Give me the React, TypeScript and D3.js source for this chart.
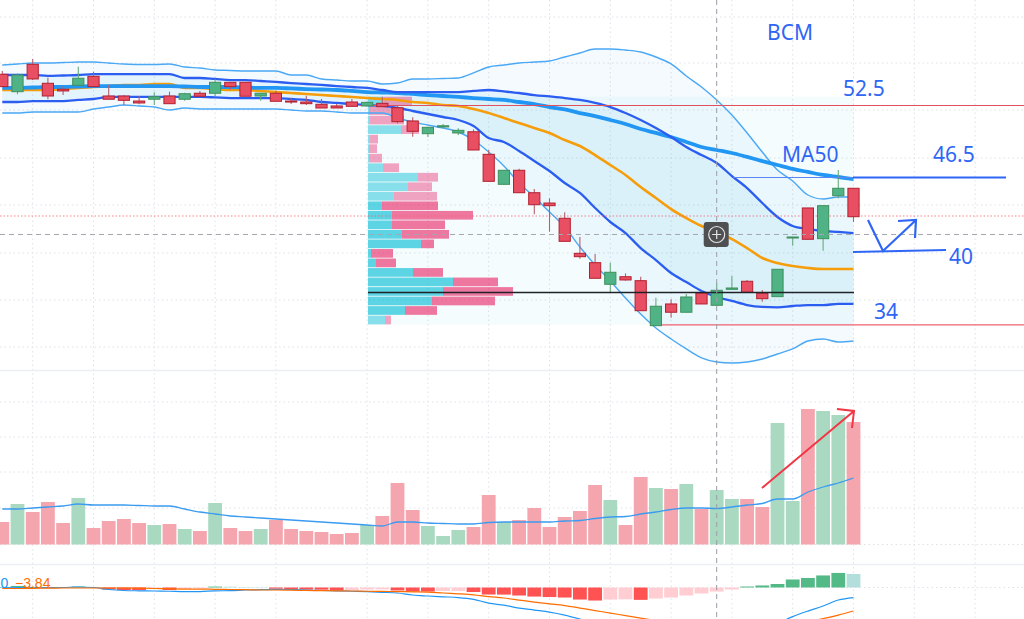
import React from "react";
import * as d3 from "d3";

const W = 1024;
const H = 619;

// Candles (price)
const opens = [55.06,53.61,55.89,54.31,53.81,54.14,54.89,53.25,53.25,52.83,52.98,53.25,52.98,53.48,53.48,54.39,54.39,53.25,53.48,52.83,52.75,52.56,52.42,52.75,52.42,52.64,52.27,51.17,50.11,50.67,50.17,50.27,48.39,45.89,47.06,45.19,44.33,43.06,40.14,39.36,37.56,38.19,37.86,34.11,35.92,35.23,36.83,35.81,37.14,37.81,36.81,36.53,41.44,43.92,41.36,44.94,45.56];
const highs = [55.33,55.14,56.33,54.78,54.08,55.69,55.28,54.17,53.33,53.25,53.56,53.61,53.53,53.67,54.64,54.39,54.39,53.48,53.69,53.08,53.27,53.00,52.58,53.00,52.80,53.19,52.50,51.47,50.64,50.92,50.56,50.47,48.75,47.06,47.18,45.50,44.73,43.56,41.50,40.08,39.36,38.47,38.19,36.44,36.31,36.75,37.03,37.64,38.25,37.92,37.08,38.81,41.50,43.92,44.11,47.08,45.56];
const lows = [54.00,53.39,54.58,52.98,53.33,54.14,54.03,52.98,52.48,52.56,52.50,52.61,52.86,53.23,53.25,53.75,53.23,52.86,52.81,52.58,52.50,52.25,52.25,52.39,52.42,52.36,50.97,49.86,49.83,50.56,50.00,48.75,46.14,45.89,45.19,43.39,41.94,41.14,39.69,38.06,36.92,37.86,35.36,34.11,34.78,35.23,35.92,35.81,37.14,36.89,36.11,36.53,40.78,41.31,40.36,44.73,42.75];
const closes = [54.03,55.00,54.67,53.25,53.67,54.73,54.03,52.98,52.89,52.67,53.19,52.61,53.44,53.23,54.39,54.03,53.23,53.48,52.81,52.79,52.61,52.25,52.25,52.39,52.72,52.36,51.11,50.31,50.64,50.77,50.39,48.75,46.14,47.06,45.19,44.19,44.11,41.14,39.86,38.06,38.56,37.92,35.36,35.73,35.23,36.50,35.92,37.06,37.25,36.89,36.36,38.81,41.50,41.31,44.11,45.56,43.19];

// Bollinger bands, MA20 and MA50
const bbOuterUpper = [55.83,55.92,56.00,56.00,56.04,56.08,56.08,56.00,55.92,55.88,55.88,55.92,55.67,55.58,55.42,55.38,55.33,55.33,55.33,55.00,55.00,54.67,54.58,54.50,54.50,54.25,54.33,54.67,54.67,54.71,54.75,55.17,55.67,55.83,56.00,56.08,56.17,56.50,56.83,57.17,57.17,57.08,56.92,56.50,55.92,54.92,54.00,52.92,51.67,50.17,48.58,47.08,46.17,45.00,44.67,44.83,44.83];
const bbOuterLower = [51.83,51.83,51.92,51.92,51.92,51.92,52.17,52.33,52.50,52.42,52.33,52.08,52.25,52.17,52.17,52.17,52.17,52.17,52.17,52.08,52.00,52.00,51.92,51.83,51.83,51.83,51.42,51.08,50.83,50.58,50.25,49.58,48.58,47.42,46.00,44.83,43.58,42.33,40.67,39.17,37.83,36.42,35.08,33.92,33.00,32.17,31.42,31.08,31.00,31.08,31.33,31.75,32.17,32.83,33.00,32.75,32.83];
const bbInnerUpper = [55.00,55.00,55.00,54.92,54.96,55.00,55.08,55.08,55.08,55.08,55.08,55.08,54.75,54.75,54.67,54.58,54.58,54.50,54.42,54.33,54.25,54.17,54.08,54.00,53.92,53.75,53.58,53.58,53.58,53.58,53.58,53.67,53.75,53.63,53.50,53.33,53.21,53.08,52.92,52.67,52.33,51.83,51.25,50.58,49.83,49.00,48.33,47.67,46.58,45.58,44.33,43.17,42.42,42.17,42.00,41.92,41.83];
const bbInnerLower = [52.75,52.75,52.83,52.83,52.83,52.92,53.00,53.17,53.17,53.17,53.17,53.17,53.17,53.17,53.13,53.08,53.08,53.08,53.08,53.00,52.92,52.75,52.67,52.58,52.50,52.42,52.25,52.00,51.75,51.50,51.25,50.75,49.75,49.42,48.67,47.83,47.00,46.00,45.17,43.92,42.75,41.83,40.58,39.58,38.50,37.75,37.00,36.50,36.17,35.83,35.67,35.63,35.75,35.83,35.83,35.92,35.92];
const ma20 = [53.75,53.75,53.75,53.75,53.83,53.92,54.00,54.08,54.17,54.17,54.25,54.25,53.92,53.92,53.83,53.75,53.75,53.67,53.58,53.50,53.42,53.33,53.25,53.17,53.08,53.00,52.92,52.75,52.67,52.50,52.42,52.17,51.83,51.42,51.00,50.58,50.17,49.58,49.08,48.33,47.50,46.67,45.67,44.75,43.83,43.08,42.42,41.92,41.33,40.58,39.75,39.33,39.08,38.92,38.83,38.83,38.83];
const ma50 = [53.92,53.92,53.96,54.00,54.00,54.04,54.08,54.08,54.08,54.08,54.08,54.08,54.04,54.00,54.00,54.00,53.96,53.92,53.92,53.88,53.83,53.79,53.75,53.67,53.58,53.54,53.50,53.42,53.33,53.25,53.17,53.08,53.00,52.92,52.75,52.58,52.33,52.13,51.83,51.58,51.25,50.92,50.50,50.17,49.83,49.42,49.00,48.75,48.50,48.17,47.83,47.50,47.17,46.92,46.67,46.50,46.33];

// Volume and its moving average
const volumes = [225,405,325,425,215,465,165,235,255,215,195,205,155,135,415,165,135,155,245,155,135,125,105,115,195,285,615,345,185,85,145,175,495,225,245,365,175,275,335,595,445,195,675,565,555,605,355,545,455,455,375,1215,435,1355,1335,1295,1225];
const volumeMA = [355,355,365,375,385,405,395,395,395,390,385,385,355,325,305,285,275,265,255,245,235,225,215,205,195,185,225,225,215,210,205,205,220,225,225,225,225,235,240,260,275,280,305,325,350,365,365,360,375,395,410,455,455,525,575,615,665];

// MACD
const macdHist = [0.08,0.25,0.11,0.08,0.08,0.16,0.08,-0.33,-0.41,-0.43,-0.25,-0.41,-0.25,-0.16,0.15,0.13,0.07,0.05,-0.20,-0.33,-0.34,-0.36,-0.49,-0.41,-0.33,-0.30,-0.49,-0.66,-0.67,-0.57,-0.56,-0.74,-1.15,-1.16,-1.31,-1.48,-1.56,-1.64,-1.97,-2.13,-1.97,-1.93,-2.02,-1.80,-1.64,-1.31,-0.98,-0.66,-0.33,0.16,0.33,0.57,1.31,1.56,1.97,2.38,2.21];
const macdLine = [-0.08,0,-0.02,-0.03,0,0.08,0,-0.33,-0.49,-0.54,-0.57,-0.61,-0.66,-0.66,-0.54,-0.52,-0.41,-0.36,-0.30,-0.33,-0.41,-0.49,-0.54,-0.61,-0.69,-0.79,-0.90,-1.23,-1.39,-1.52,-1.64,-1.93,-2.54,-2.89,-3.36,-3.69,-4.02,-4.51,-5.16,-5.90,-6.15,-6.52,-7.02,-7.21,-7.46,-7.46,-7.38,-7.21,-6.97,-6.48,-6.23,-5.82,-4.75,-3.85,-3.03,-2.05,-1.64];
const macdSignal = [-0.16,-0.16,-0.13,-0.11,-0.08,-0.08,-0.08,-0.08,-0.08,-0.11,-0.16,-0.20,-0.25,-0.25,-0.30,-0.33,-0.36,-0.41,-0.41,-0.44,-0.48,-0.51,-0.54,-0.57,-0.61,-0.64,-0.67,-0.70,-0.74,-0.90,-1.03,-1.20,-1.48,-1.72,-2.05,-2.38,-2.67,-2.95,-3.36,-3.77,-4.18,-4.59,-5.00,-5.41,-5.82,-6.15,-6.39,-6.56,-6.64,-6.64,-6.56,-6.39,-6.07,-5.57,-5.08,-4.51,-3.84];

// Visible-range volume profile, top row to bottom row
const vpBuy = [16,1,2,33,2,1,1,15,50,40,26,14,24,24,34,53,3,8,45,85,75,64,37,17];
const vpSell = [28,26,34,18,8,8,13,16,20,24,43,56,81,53,47,13,22,20,30,45,70,63,32,6];
const vpInValueArea = [0,0,0,0,0,0,0,0,0,0,0,1,1,1,1,1,1,1,1,1,1,1,1,0];

// Grid values
const gridBars = [2,6,10,14,18,24,28,32,36,40,44,48,52,56,60,64];
const gridPrices = [59.83,56,52.08,48.08,44.17,40.17,36.25,32.33];
const gridVolumes = [1425,1075,725,365,0];

// Price levels
const levelResist = 52.46;
const levelMA50 = 46.46;
const levelSupport = 34.17;
const levelPoc = 36.87;
const lastPriceLine = 43.25;
const crosshairPrice = 41.71;
const crosshairBar = 47;

const n = opens.length;
const barX = d3.scaleLinear().domain([0, 56]).range([2.3, 853.5]);
const priceY = d3.scaleLinear().domain([61.25, 31]).range([0, 363]);
const volY = d3.scaleLinear().domain([0, 1355]).range([544.5, 409]);
const macdY = d3.scaleLinear().domain([0, -3.84]).range([587.5, 611]);
const vpX = d3.scaleLinear().domain([0, 100]).range([368, 468]);

const idx = d3.range(n);
const curve = d3.curveMonotoneX;
const priceLine = (vals: number[]) =>
  d3.line<number>().curve(curve).x((i) => barX(i)).y((i) => priceY(vals[i]))(idx) as string;
const bandPath = (up: number[], lo: number[]) =>
  d3.area<number>().curve(curve).x((i) => barX(i)).y0((i) => priceY(lo[i])).y1((i) => priceY(up[i]))(idx) as string;

const RED = "#e94f63";
const RED_EDGE = "#b3202f";
const GREEN = "#50b385";
const GREEN_EDGE = "#3f8f5c";
const BLUE_INK = "#2f66f5";
const FONT = "'Noto Sans', 'Open Sans', sans-serif";

const gridStyle = { stroke: "#dfe2e8", strokeWidth: 1, strokeDasharray: "1.5 3" };

export default function App() {
  const vpTop = 96.7;
  const vpStep = 9.52;
  return (
    <svg
      width={W}
      height={H}
      viewBox={`0 0 ${W} ${H}`}
      style={{ position: "absolute", left: 0, top: 0, display: "block", background: "#fff" }}
    >
      {/* grid */}
      {gridBars.map((b) => (
        <line key={b} x1={barX(b)} x2={barX(b)} y1={0} y2={H} {...gridStyle} />
      ))}
      {gridPrices.map((p) => (
        <line key={p} x1={0} x2={W} y1={priceY(p)} y2={priceY(p)} {...gridStyle} />
      ))}
      {gridVolumes.map((v) => (
        <line key={v} x1={0} x2={W} y1={volY(v)} y2={volY(v)} {...gridStyle} />
      ))}
      <line x1={0} x2={W} y1={macdY(0)} y2={macdY(0)} {...gridStyle} />
      <line x1={0} x2={W} y1={370.5} y2={370.5} stroke="#eceef1" strokeWidth={1.5} />
      <line x1={0} x2={W} y1={564.5} y2={564.5} stroke="#eceef1" strokeWidth={1.5} />

      {/* bands */}
      <path d={bandPath(bbOuterUpper, bbOuterLower)} fill="#2196f3" fillOpacity={0.05} />
      <path d={bandPath(bbInnerUpper, bbInnerLower)} fill="#26b6e6" fillOpacity={0.08} />
      <rect x={368} y={vpTop} width={486} height={228} fill="#00bcd4" fillOpacity={0.04} />

      {/* volume profile */}
      {vpBuy.map((b, r) => {
        const y = vpTop + r * vpStep;
        const strong = vpInValueArea[r] === 1;
        return (
          <g key={r}>
            <rect x={vpX(0)} y={y} width={vpX(b) - vpX(0)} height={8.7} fill="#00bcd4" fillOpacity={strong ? 0.62 : 0.45} />
            <rect x={vpX(b)} y={y} width={vpX(b + vpSell[r]) - vpX(b)} height={8.7} fill="#e91e63" fillOpacity={strong ? 0.6 : 0.4} />
          </g>
        );
      })}

      {/* indicator lines */}
      <path d={priceLine(bbOuterUpper)} fill="none" stroke="#4aa8f5" strokeWidth={1.4} />
      <path d={priceLine(bbOuterLower)} fill="none" stroke="#4aa8f5" strokeWidth={1.4} />
      <path d={priceLine(ma20)} fill="none" stroke="#f59d0b" strokeWidth={2.6} />
      <path d={priceLine(ma50)} fill="none" stroke="#2196f3" strokeWidth={3.8} />
      <path d={priceLine(bbInnerUpper)} fill="none" stroke="#2a5df0" strokeWidth={2.3} />
      <path d={priceLine(bbInnerLower)} fill="none" stroke="#2a5df0" strokeWidth={2.3} />

      {/* reference lines behind candles */}
      <line x1={0} x2={W} y1={priceY(lastPriceLine)} y2={priceY(lastPriceLine)} stroke="#f7606f" strokeOpacity={0.8} strokeWidth={1} strokeDasharray="1.5 2" />
      <line x1={360} x2={W} y1={priceY(levelResist)} y2={priceY(levelResist)} stroke="#e0505f" strokeWidth={1.1} />
      <line x1={660} x2={W} y1={priceY(levelSupport)} y2={priceY(levelSupport)} stroke="#ee6270" strokeWidth={1.2} />

      {/* candles */}
      {idx.map((i) => {
        const up = closes[i] >= opens[i];
        const top = priceY(Math.max(opens[i], closes[i]));
        const bot = priceY(Math.min(opens[i], closes[i]));
        const x = barX(i);
        return (
          <g key={i}>
            <line x1={x} x2={x} y1={priceY(highs[i])} y2={priceY(lows[i])} stroke={up ? "#6aab7e" : "#b9606c"} strokeWidth={1.1} />
            <rect
              x={x - 5.6}
              y={top}
              width={11.2}
              height={Math.max(bot - top, 1)}
              fill={up ? GREEN : RED}
              stroke={up ? GREEN_EDGE : RED_EDGE}
              strokeWidth={1}
            />
          </g>
        );
      })}

      {/* point of control */}
      <line x1={368} x2={854} y1={priceY(levelPoc)} y2={priceY(levelPoc)} stroke="#1f2226" strokeWidth={1.6} />

      {/* volume */}
      {idx.map((i) => (
        <rect
          key={i}
          x={barX(i) - 6.9}
          y={volY(volumes[i])}
          width={13.8}
          height={volY(0) - volY(volumes[i])}
          fill={closes[i] >= opens[i] ? "#a9dac1" : "#f5a5ad"}
        />
      ))}
      <path
        d={d3.line<number>().curve(curve).x((i) => barX(i)).y((i) => volY(volumeMA[i]))(idx) as string}
        fill="none"
        stroke="#3b9bf0"
        strokeWidth={1.3}
      />

      {/* MACD */}
      {idx.map((i) => {
        const v = macdHist[i];
        const prev = i > 0 ? macdHist[i - 1] : 0;
        const fill = v >= 0 ? (v >= prev ? "#53b987" : "#b2dfdb") : v <= prev ? "#ff5252" : "#ffcdd2";
        return (
          <rect
            key={i}
            x={barX(i) - 6.9}
            y={Math.min(macdY(v), macdY(0))}
            width={13.8}
            height={Math.abs(macdY(v) - macdY(0))}
            fill={fill}
          />
        );
      })}
      <path
        d={d3.line<number>().curve(curve).x((i) => barX(i)).y((i) => macdY(macdLine[i]))(idx) as string}
        fill="none"
        stroke="#2196f3"
        strokeWidth={1.2}
      />
      <path
        d={d3.line<number>().curve(curve).x((i) => barX(i)).y((i) => macdY(macdSignal[i]))(idx) as string}
        fill="none"
        stroke="#ff6d00"
        strokeWidth={1.2}
      />
      <text x={0.5} y={588} fontFamily="'Liberation Sans', sans-serif" fontSize={14} fill="#2196f3">0</text>
      <text x={15} y={588} fontFamily="'Liberation Sans', sans-serif" fontSize={14} fill="#ff6d00">−3.84</text>

      {/* crosshair */}
      <line x1={barX(crosshairBar)} x2={barX(crosshairBar)} y1={0} y2={H} stroke="#9a9da6" strokeWidth={1} strokeDasharray="5 4" />
      <line x1={0} x2={W} y1={priceY(crosshairPrice)} y2={priceY(crosshairPrice)} stroke="#a4a7ae" strokeWidth={1} strokeDasharray="5 4" />
      <g transform={`translate(${barX(crosshairBar)},${priceY(crosshairPrice)})`}>
        <rect x={-13} y={-12.5} width={25} height={25} rx={3} fill="#4f5052" />
        <circle r={8} fill="none" stroke="#e6e6e6" strokeWidth={1.2} />
        <path d="M-4.5 0H4.5M0 -4.5V4.5" stroke="#e6e6e6" strokeWidth={1.2} />
      </g>

      {/* hand-drawn annotations */}
      <line x1={733} x2={853} y1={priceY(levelMA50)} y2={priceY(levelMA50)} stroke="#5a86f5" strokeWidth={1.2} />
      <line x1={853} x2={1006} y1={priceY(levelMA50)} y2={priceY(levelMA50)} stroke={BLUE_INK} strokeWidth={1.8} />
      <path d="M853 252L946 250" fill="none" stroke={BLUE_INK} strokeWidth={2.2} />
      <path d="M868 220L883 251L916 220M898 221L916 220L915 238" fill="none" stroke={BLUE_INK} strokeWidth={2.2} />
      <path d="M762 488L854 411M837 409L854 411L852 428" fill="none" stroke="#f23645" strokeWidth={2} />

      <g fontFamily={FONT} fontSize={21} fill={BLUE_INK}>
        <text x={767} y={40}>BCM</text>
        <text x={843} y={96}>52.5</text>
        <text x={782} y={162}>MA50</text>
        <text x={933} y={162}>46.5</text>
        <text x={949} y={264}>40</text>
        <text x={874} y={319}>34</text>
      </g>
    </svg>
  );
}
